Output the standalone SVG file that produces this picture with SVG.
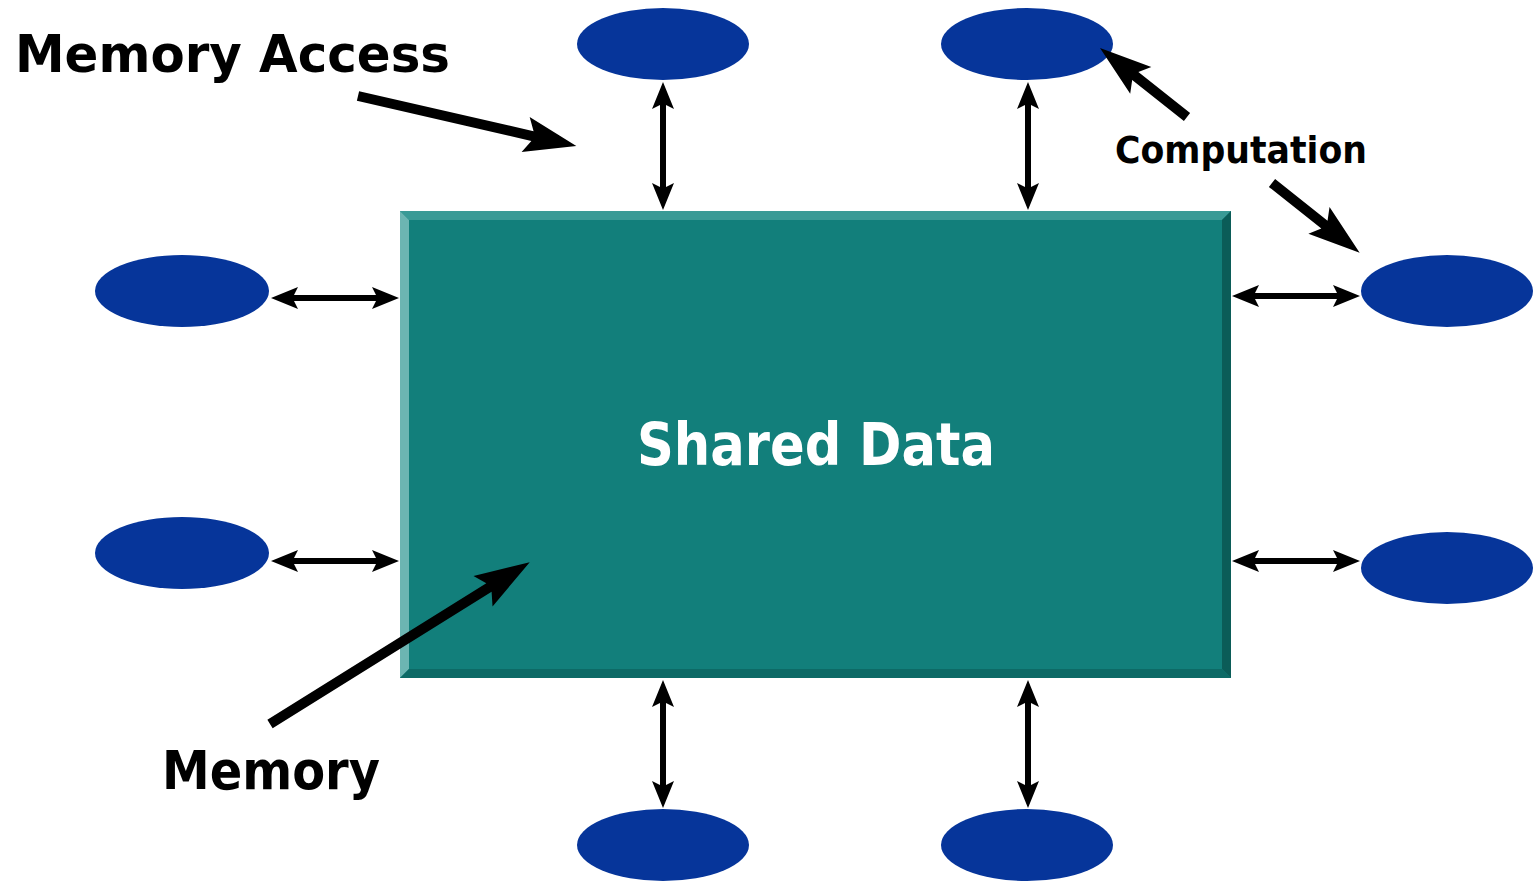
<svg xmlns="http://www.w3.org/2000/svg" width="1536" height="883" viewBox="0 0 1536 883">
<style>
.proc{fill:#06359a}
.lbl{font-family:"Comic Sans MS","DejaVu Sans","Noto Sans",sans-serif;font-weight:bold;fill:#000}
.arw{fill:#000}
</style>
<defs>
<path id="dbl" d="M0,0 L11,27 L3,23 L3,105 L11,101 L0,128 L-11,101 L-3,105 L-3,23 L-11,27 Z"/>
</defs>
<rect width="1536" height="883" fill="#fff"/>
<g id="memory">
<rect x="400" y="211" width="831" height="467" fill="#127f7b"/>
<polygon points="400,211 1231,211 1222,220 409,220" fill="#3a9a96"/>
<polygon points="400,211 409,220 409,669 400,678" fill="#6cb5b2"/>
<polygon points="1231,211 1231,678 1222,669 1222,220" fill="#0b5c58"/>
<polygon points="400,678 1231,678 1222,669 409,669" fill="#0d6a66"/>
<text x="816" y="465" text-anchor="middle" font-family="'Comic Sans MS','DejaVu Sans','Noto Sans',sans-serif" font-weight="bold" font-size="58" fill="#fff" textLength="358" lengthAdjust="spacingAndGlyphs">Shared Data</text>
</g>
<g id="p1"><ellipse class="proc" cx="663" cy="44" rx="86" ry="36"/></g>
<g id="p2"><ellipse class="proc" cx="1027" cy="44" rx="86" ry="36"/></g>
<g id="p3"><ellipse class="proc" cx="182" cy="291" rx="87" ry="36"/></g>
<g id="p4"><ellipse class="proc" cx="182" cy="553" rx="87" ry="36"/></g>
<g id="p5"><ellipse class="proc" cx="1447" cy="291" rx="86" ry="36"/></g>
<g id="p6"><ellipse class="proc" cx="1447" cy="568" rx="86" ry="36"/></g>
<g id="p7"><ellipse class="proc" cx="663" cy="845" rx="86" ry="36"/></g>
<g id="p8"><ellipse class="proc" cx="1027" cy="845" rx="86" ry="36"/></g>
<g id="connectors" class="arw">
<use href="#dbl" transform="translate(663,82)"/>
<use href="#dbl" transform="translate(1028,82)"/>
<use href="#dbl" transform="translate(663,680)"/>
<use href="#dbl" transform="translate(1028,680)"/>
<use href="#dbl" transform="translate(271,298) rotate(-90)"/>
<use href="#dbl" transform="translate(271,561) rotate(-90)"/>
<use href="#dbl" transform="translate(1232,296) rotate(-90)"/>
<use href="#dbl" transform="translate(1232,561) rotate(-90)"/>
<path transform="translate(358,96) rotate(12.92)" d="M0,-5 L179,-5 L172,-18 L224,0 L172,18 L179,5 L0,5 Z"/>
<path transform="translate(1187,117) rotate(-141.6)" d="M0,-5 L66,-5 L59,-17 L111,0 L59,17 L66,5 L0,5 Z"/>
<path transform="translate(1272,183) rotate(38.5)" d="M0,-5 L67,-5 L60,-17 L112,0 L60,17 L67,5 L0,5 Z"/>
<path transform="translate(270,724) rotate(-31.93)" d="M0,-5 L258,-5 L251,-18 L306,0 L251,18 L258,5 L0,5 Z"/>
</g>
<g id="labels">
<text class="lbl" x="15" y="72" font-size="52" textLength="435" lengthAdjust="spacingAndGlyphs">Memory Access</text>
<text class="lbl" x="1115" y="163" font-size="38" textLength="252" lengthAdjust="spacingAndGlyphs">Computation</text>
<text class="lbl" x="162" y="789" font-size="54" textLength="218" lengthAdjust="spacingAndGlyphs">Memory</text>
</g>
</svg>
